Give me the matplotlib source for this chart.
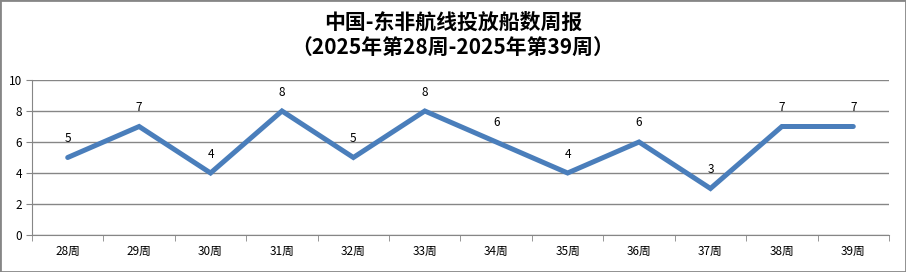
import matplotlib
matplotlib.use('Agg')
import matplotlib.pyplot as plt
from matplotlib.patches import Rectangle

plt.rcParams['font.family'] = ['Noto Sans CJK SC', 'DejaVu Sans']

weeks = ['28周', '29周', '30周', '31周', '32周', '33周', '34周', '35周', '36周', '37周', '38周', '39周']
ships = [5, 7, 4, 8, 5, 8, 6, 4, 6, 3, 7, 7]
title1 = '中国-东非航线投放船数周报'
title2 = '（2025年第28周-2025年第39周）'

fig = plt.figure(figsize=(9.06, 2.72), dpi=100)
ax = fig.add_axes([32 / 906, 1 - 235 / 272, (889 - 32) / 906, (235 - 80) / 272])

x = list(range(len(weeks)))
ax.plot(x, ships, color='#4a7ebb', lw=3.6, solid_joinstyle='miter', solid_capstyle='round', zorder=3)
for xi, v in zip(x, ships):
    ax.annotate(str(v), (xi, v), xytext=(0, 9), textcoords='offset points',
                ha='center', va='bottom', fontsize=8.5, color='black')

ax.set_xlim(-0.5, len(weeks) - 0.5)
ax.set_ylim(0, 10)
ax.set_yticks(range(0, 11, 2))
ax.set_xticks(x)
ax.set_xticklabels(weeks, fontsize=8.5)
ax.set_xticks([i - 0.5 for i in range(len(weeks) + 1)], minor=True)
ax.tick_params(axis='x', which='major', length=0, pad=7)
ax.tick_params(axis='x', which='minor', length=4, color='#868686')
ax.tick_params(axis='y', length=4, color='#868686', labelsize=8.5, pad=3)
ax.grid(axis='y', color='#868686', lw=1)
ax.set_axisbelow(True)
for s in ['top', 'right']:
    ax.spines[s].set_visible(False)
for s in ['left', 'bottom']:
    ax.spines[s].set_color('#868686')

fig.text(0.5, 1 - 22 / 272, title1, ha='center', va='center', fontsize=15, fontweight='bold')
fig.text(0.5, 1 - 48 / 272, title2, ha='center', va='center', fontsize=15, fontweight='bold')

fig.patches.append(Rectangle((0, 0), 1, 1, transform=fig.transFigure, fill=False,
                             edgecolor='#868686', lw=2))

fig.savefig('out.png', dpi=100)
